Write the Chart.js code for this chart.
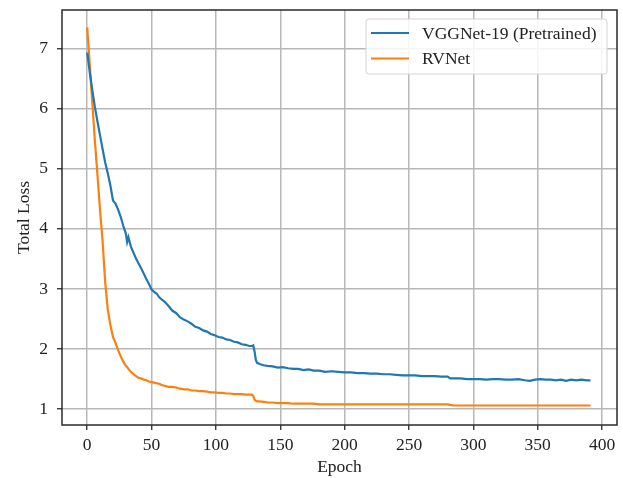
<!DOCTYPE html>
<html>
<head>
<meta charset="utf-8">
<script src="https://cdn.jsdelivr.net/npm/chart.js@4"></script>
<style>
  body { margin: 0; background: #fff; }
</style>
</head>
<body>
<canvas id="lossChart" width="623" height="478"></canvas>
<script>
const epochs = [0, 2, 4, 6, 8, 10, 12, 14, 16, 18, 20, 22, 24, 26, 28, 30, 31, 32, 34, 36, 38, 40, 42, 44, 46, 48, 50, 52, 54, 56, 58, 60,
  63, 66, 69, 72, 75, 78, 81, 84, 87, 90, 93, 96, 99, 102, 105, 108, 111, 114, 117, 120, 123, 126, 128, 129, 130, 131, 132, 134, 137, 140,
  144, 148, 152, 156, 160, 164, 168, 172, 176, 180, 185, 190, 195, 200, 205, 210, 215, 220, 225, 230, 235, 240, 245, 250, 255, 260, 265, 270, 275, 280,
  282, 285, 290, 295, 300, 305, 310, 315, 320, 325, 330, 335, 340, 344, 348, 352, 356, 360, 364, 368, 372, 376, 380, 384, 388, 391];

const vggLoss = [6.93, 6.60, 6.30, 6.02, 5.78, 5.55, 5.32, 5.10, 4.92, 4.72, 4.47, 4.42, 4.32, 4.20, 4.05, 3.92, 3.78, 3.86, 3.70, 3.60, 3.50, 3.42, 3.34, 3.25, 3.16, 3.08, 2.99, 2.95, 2.92, 2.86, 2.82, 2.79,
  2.72, 2.64, 2.60, 2.53, 2.49, 2.46, 2.42, 2.37, 2.35, 2.31, 2.29, 2.25, 2.23, 2.20, 2.19, 2.16, 2.15, 2.12, 2.11, 2.08, 2.07, 2.05, 2.05, 2.06, 1.96, 1.82, 1.77, 1.75, 1.73, 1.72,
  1.71, 1.69, 1.70, 1.68, 1.67, 1.67, 1.65, 1.66, 1.64, 1.64, 1.62, 1.63, 1.62, 1.61, 1.61, 1.60, 1.60, 1.59, 1.59, 1.58, 1.58, 1.57, 1.56, 1.56, 1.56, 1.55, 1.55, 1.55, 1.54, 1.54,
  1.51, 1.51, 1.51, 1.50, 1.50, 1.50, 1.49, 1.50, 1.50, 1.49, 1.49, 1.50, 1.48, 1.47, 1.49, 1.50, 1.49, 1.49, 1.48, 1.49, 1.47, 1.49, 1.48, 1.49, 1.48, 1.48];

const rvLoss = [7.35, 6.72, 6.08, 5.45, 4.88, 4.30, 3.78, 3.10, 2.65, 2.40, 2.20, 2.10, 1.98, 1.88, 1.79, 1.72, 1.70, 1.67, 1.62, 1.58, 1.55, 1.52, 1.51, 1.49, 1.48, 1.46, 1.45, 1.44, 1.43, 1.42, 1.40, 1.39,
  1.37, 1.37, 1.36, 1.34, 1.33, 1.33, 1.31, 1.31, 1.30, 1.30, 1.29, 1.28, 1.28, 1.27, 1.27, 1.26, 1.26, 1.25, 1.25, 1.25, 1.24, 1.24, 1.24, 1.22, 1.16, 1.14, 1.13, 1.13, 1.12, 1.11,
  1.11, 1.10, 1.10, 1.10, 1.09, 1.09, 1.09, 1.09, 1.09, 1.08, 1.08, 1.08, 1.08, 1.08, 1.08, 1.08, 1.08, 1.08, 1.08, 1.08, 1.08, 1.08, 1.08, 1.08, 1.08, 1.08, 1.08, 1.08, 1.08, 1.08,
  1.07, 1.06, 1.06, 1.06, 1.06, 1.06, 1.06, 1.06, 1.06, 1.06, 1.06, 1.06, 1.06, 1.06, 1.06, 1.06, 1.06, 1.06, 1.06, 1.06, 1.06, 1.06, 1.06, 1.06, 1.06, 1.06];

const xTicks = [0, 50, 100, 150, 200, 250, 300, 350, 400];
const yTicks = [1, 2, 3, 4, 5, 6, 7];

const textColor = '#222';
const gridColor = '#b8b8b8';
const frameColor = '#2a2a2a';
const font = { family: 'Liberation Serif', size: 17.5 };

// matplotlib style frame on all four sides plus the boxed legend in the corner
const framePlugin = {
    id: 'frame',
    afterDraw(chart) {
        const { ctx, chartArea: a } = chart;
        ctx.save();
        ctx.strokeStyle = frameColor;
        ctx.lineWidth = 1.5;
        ctx.strokeRect(a.left, a.top, a.right - a.left, a.bottom - a.top);

        // legend box
        const bx = a.right - 251, by = a.top + 9, bw = 241, bh = 55;
        ctx.beginPath();
        ctx.roundRect(bx, by, bw, bh, 3);
        ctx.fillStyle = 'rgba(255,255,255,0.85)';
        ctx.fill();
        ctx.strokeStyle = '#d4d4d4';
        ctx.lineWidth = 1;
        ctx.stroke();

        ctx.font = font.size + 'px ' + font.family;
        ctx.textBaseline = 'middle';
        ctx.textAlign = 'left';
        chart.data.datasets.forEach((ds, i) => {
            const y = by + 14 + i * 25.5;
            ctx.strokeStyle = ds.borderColor;
            ctx.lineWidth = 2.2;
            ctx.beginPath();
            ctx.moveTo(bx + 5, y);
            ctx.lineTo(bx + 43, y);
            ctx.stroke();
            ctx.fillStyle = textColor;
            ctx.fillText(ds.label, bx + 56, y + 1);
        });
        ctx.restore();
    }
};

const toPoints = (vals) => vals.map((v, i) => ({ x: epochs[i], y: v }));

new Chart(document.getElementById('lossChart'), {
    type: 'line',
    data: {
        datasets: [{
            label: 'VGGNet-19 (Pretrained)',
            data: toPoints(vggLoss),
            borderColor: '#1f77b4',
            backgroundColor: '#1f77b4',
            borderWidth: 2.2,
            pointRadius: 0,
            tension: 0,
            fill: false,
        }, {
            label: 'RVNet',
            data: toPoints(rvLoss),
            borderColor: '#ff7f0e',
            backgroundColor: '#ff7f0e',
            borderWidth: 2.2,
            pointRadius: 0,
            tension: 0,
            fill: false,
        }]
    },
    options: {
        responsive: false,
        devicePixelRatio: 1,
        animation: false,
        layout: { padding: { top: 10, right: 6, left: 0, bottom: 0 } },
        scales: {
            x: {
                type: 'linear',
                min: -19.6,
                max: 411.6,
                afterBuildTicks: (scale) => { scale.ticks = xTicks.map(v => ({ value: v })); },
                afterFit: (scale) => { scale.height = 53; scale.paddingLeft = 0; scale.paddingRight = 0; },
                ticks: { color: textColor, font: font, padding: 5, maxRotation: 0 },
                grid: { color: gridColor, lineWidth: 1.5, drawTicks: true, tickLength: 5, tickColor: frameColor, tickWidth: 1.3 },
                border: { display: false },
                title: { display: true, text: 'Epoch', color: textColor, font: font, padding: { top: 0, bottom: 0 } },
            },
            y: {
                min: 0.736,
                max: 7.64,
                afterBuildTicks: (scale) => { scale.ticks = yTicks.map(v => ({ value: v })); },
                afterFit: (scale) => { scale.width = 62; scale.paddingTop = 0; scale.paddingBottom = 0; },
                ticks: { color: textColor, font: font, padding: 9 },
                grid: { color: gridColor, lineWidth: 1.5, drawTicks: true, tickLength: 5, tickColor: frameColor, tickWidth: 1.3 },
                border: { display: false },
                title: { display: true, text: 'Total Loss', color: textColor, font: font, padding: { top: 13.5, bottom: 0 } },
            }
        },
        plugins: {
            legend: { display: false },
            tooltip: { enabled: false }
        }
    },
    plugins: [framePlugin]
});
</script>
</body>
</html>
